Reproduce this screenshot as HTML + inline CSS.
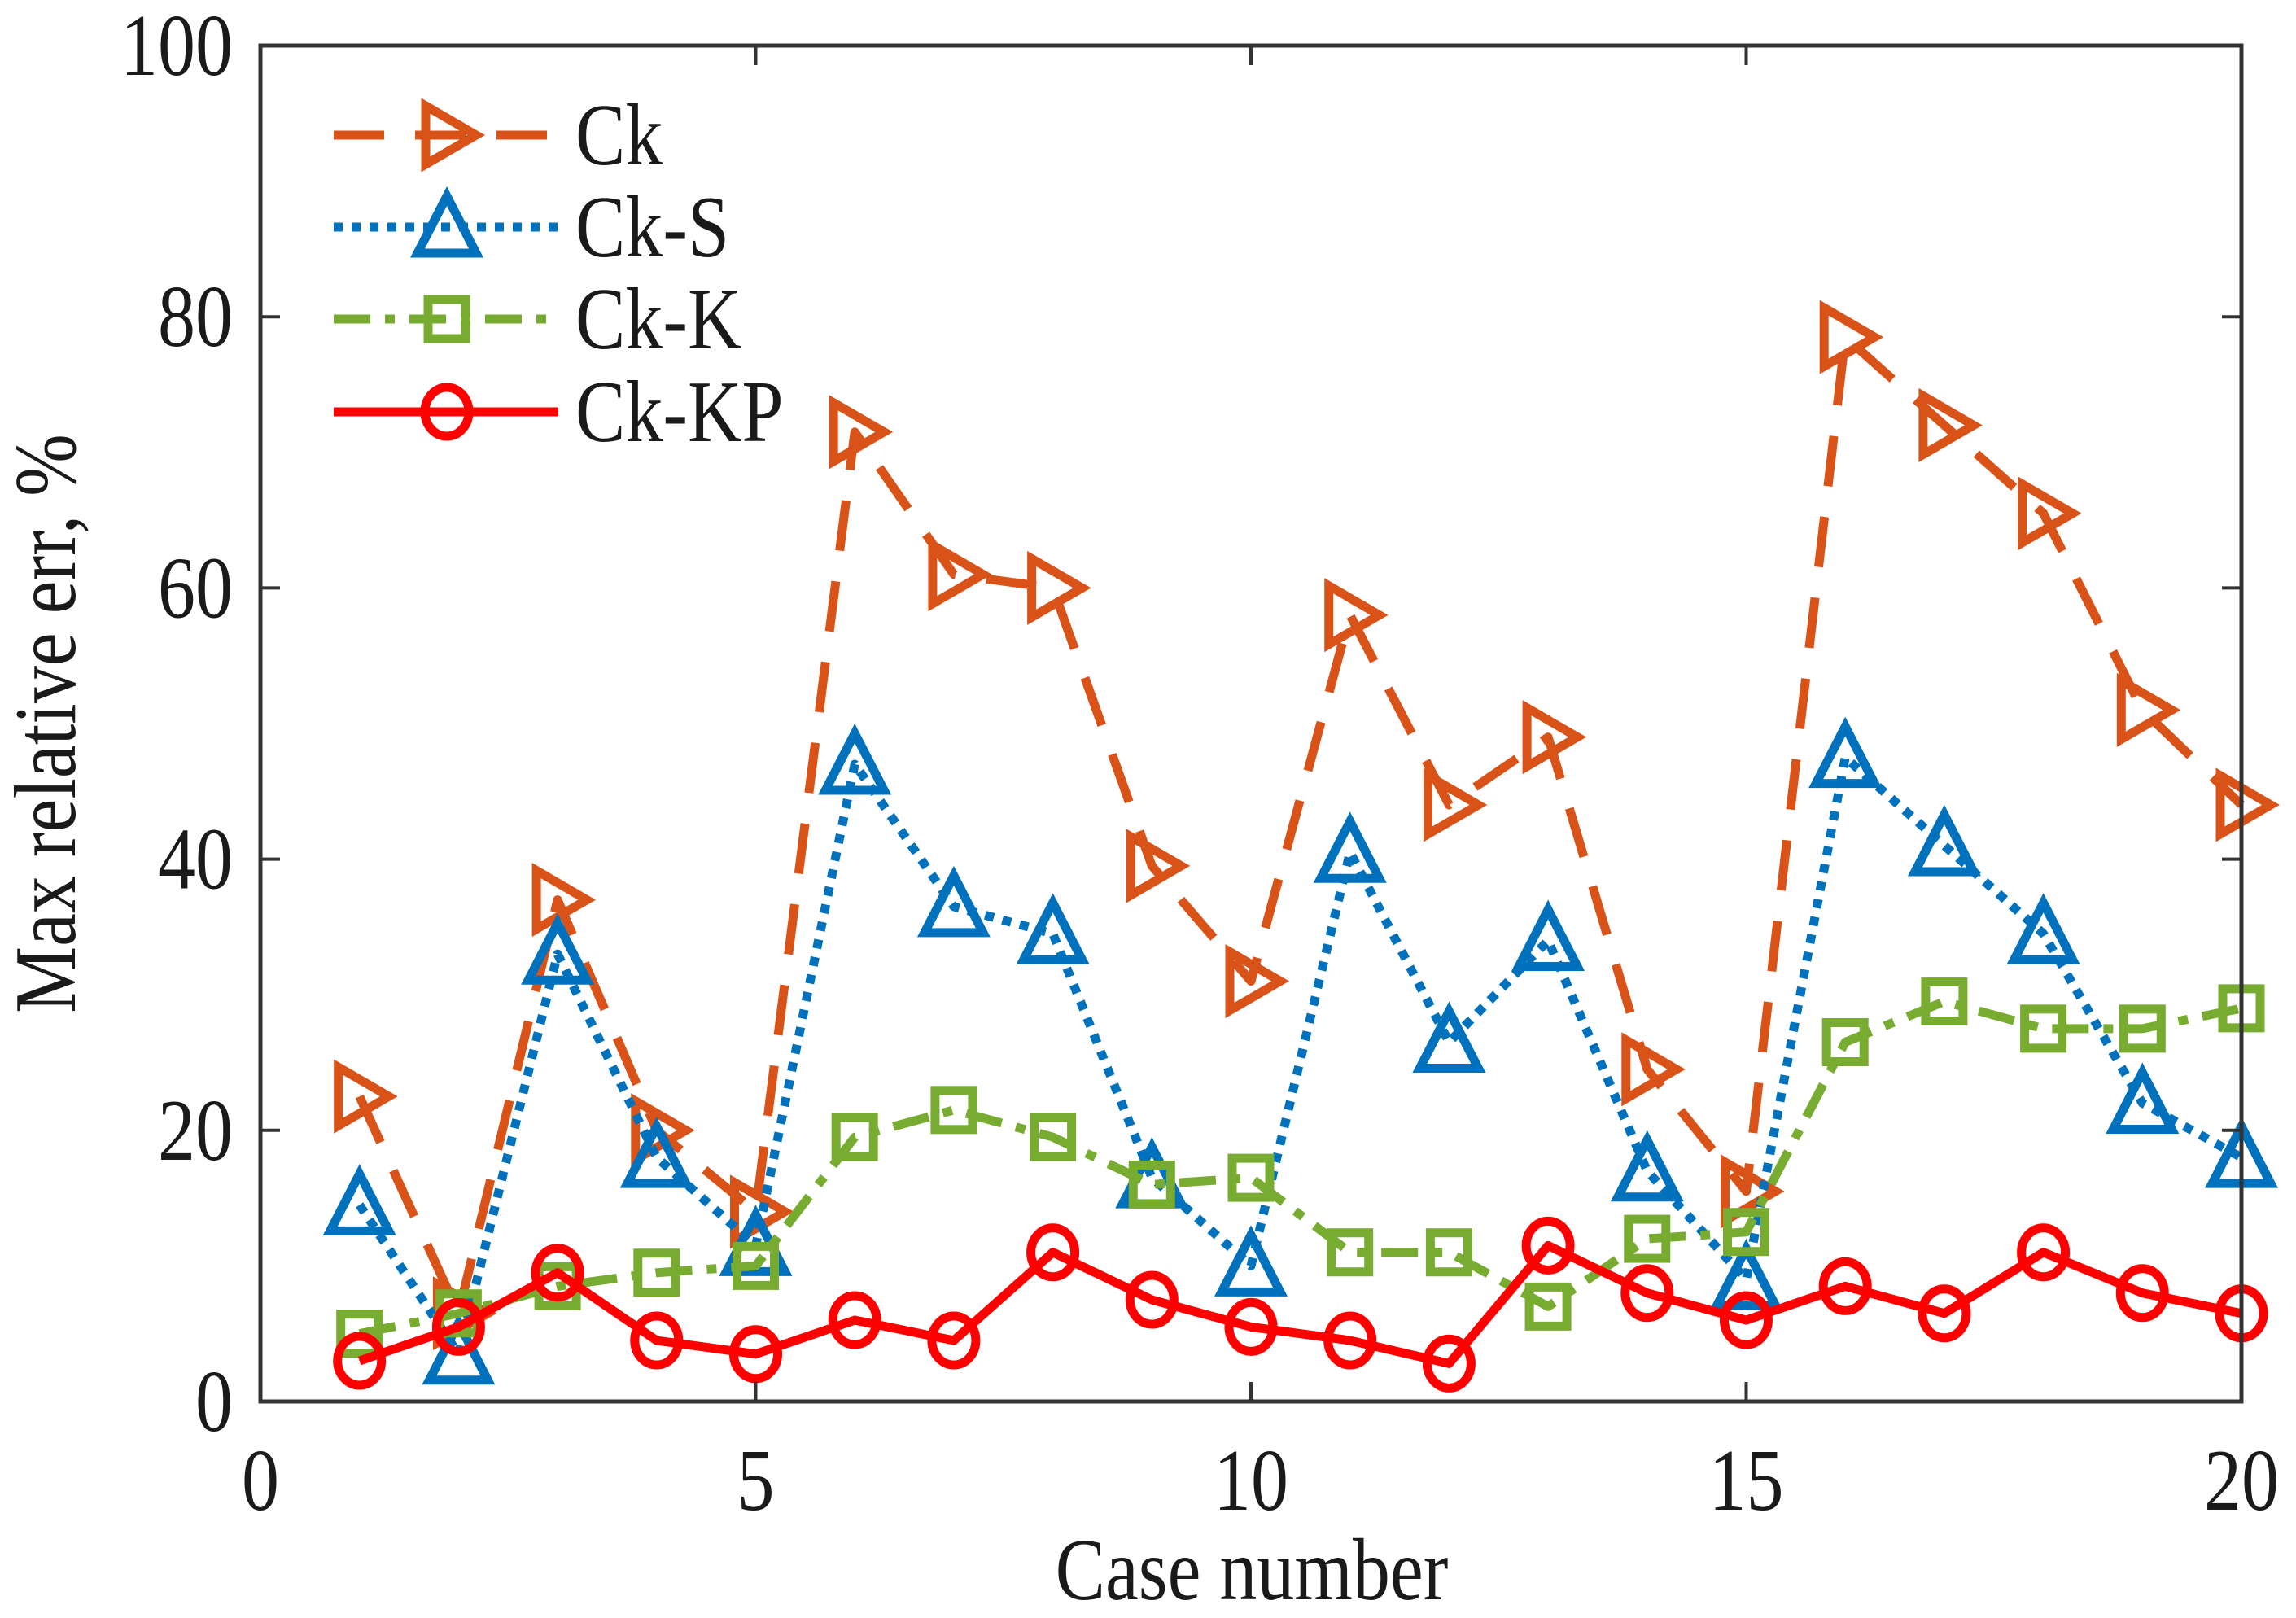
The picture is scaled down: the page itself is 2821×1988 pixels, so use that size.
<!DOCTYPE html>
<html><head><meta charset="utf-8"><style>
html,body{margin:0;padding:0;background:#fff;}
svg text{font-family:"Liberation Serif",serif;fill:#1a1a1a;}
</style></head><body>
<svg id="chart" width="2821" height="1983" viewBox="0 0 2821 1983" xmlns="http://www.w3.org/2000/svg">
<g id="marks"></g>
<g id="axes"></g>
<g id="legend"></g>
</svg>
<script>
const cases = [1,2,3,4,5,6,7,8,9,10,11,12,13,14,15,16,17,18,19,20];
const ckValues = [22.5,6.5,37,20,14,71.5,61,60,39.5,31,58,44,49,24.5,15.5,78.5,72,65.5,51,44];
const ckSValues = [14.5,3.5,33,18,11.5,47,36.5,34.5,16.5,10,40.5,26.5,34,17,9,47.5,41,34.5,22,18];
const ckKValues = [5,6.5,8.5,9.5,10,19.5,21.5,19.5,16,16.5,11,11,7,12,12.5,26.5,29.5,27.5,27.5,29];
const ckKPValues = [3,5.5,9.5,4.5,3.5,6,4.5,11,7.5,5.5,4.5,2.8,11.5,8,6,8.5,6.5,11,8,6.5];
const xTicks = [0,5,10,15,20];
const yTicks = [0,20,40,60,80,100];
const seriesNames = ["Ck","Ck-S","Ck-K","Ck-KP"];

const L=320,R=2754,T=56,B=1722;
const xs = v => L + (v-0)/(20-0)*(R-L);
const ys = v => B - (v-0)/(100-0)*(B-T);
const NS="http://www.w3.org/2000/svg";
const SY=1.17;
function mk(tag, attrs, parent){const e=document.createElementNS(NS,tag);for(const k in attrs)e.setAttribute(k,attrs[k]);parent.appendChild(e);return e;}
function txt(x,y,anchor,str,parent,rot){
  const tr = rot ? `translate(${x},${y}) rotate(-90) scale(1,${SY})` : `translate(${x},${y}) scale(1,${SY})`;
  const t=mk('text',{x:0,y:0,"font-size":92,"text-anchor":anchor,transform:tr},parent);
  t.textContent=str;return t;
}
const marks=document.getElementById('marks'), axes=document.getElementById('axes'), legend=document.getElementById('legend');

const styles=[
 {vals:ckValues,color:"#D95319",dash:"62,38",marker:"tri-right",slug:"ck"},
 {vals:ckSValues,color:"#0072BD",dash:"11,11",marker:"tri-up",slug:"ck-s"},
 {vals:ckKValues,color:"#77AC30",dash:"45,18,12,18",marker:"square",slug:"ck-k"},
 {vals:ckKPValues,color:"#FF0000",dash:"none",marker:"circle",slug:"ck-kp"}
];
const SW=11;
function marker(type,x,y,color,parent){
  let e;
  if(type==="circle") e=mk('ellipse',{cx:x,cy:y,rx:27,ry:30,fill:"none",stroke:color,"stroke-width":SW},parent);
  else if(type==="square") e=mk('rect',{x:x-23,y:y-24,width:46,height:48,fill:"none",stroke:color,"stroke-width":SW},parent);
  else if(type==="tri-up") e=mk('polygon',{points:`${x},${y-38} ${x-36},${y+32} ${x+36},${y+32}`,fill:"none",stroke:color,"stroke-width":SW},parent);
  else e=mk('polygon',{points:`${x+36},${y} ${x-26},${y-36} ${x-26},${y+36}`,fill:"none",stroke:color,"stroke-width":SW},parent);
  return e;
}
styles.forEach((s,si)=>{
  const g=mk('g',{},marks);
  
  
  const pts=cases.map((c,i)=>xs(c)+","+ys(s.vals[i])).join(" ");
  const pl=mk('polyline',{points:pts,fill:"none",stroke:s.color,"stroke-width":SW,"stroke-dasharray":s.dash,"stroke-linejoin":"round"},g);
  
  
  cases.forEach((c,i)=>{
    const m=marker(s.marker,xs(c),ys(s.vals[i]),s.color,g);
    
    
  });
});
const box=mk('rect',{x:L,y:T,width:R-L,height:B-T,fill:"none",stroke:"#333","stroke-width":5},axes);


xTicks.forEach(t=>{
  const x=xs(t);
  mk('line',{x1:x,y1:B,x2:x,y2:B-24,stroke:"#333","stroke-width":4},axes);
  mk('line',{x1:x,y1:T,x2:x,y2:T+24,stroke:"#333","stroke-width":4},axes);
  const tx=txt(x,1855,"middle",String(t),axes);
  
  
});
yTicks.forEach(t=>{
  const y=ys(t);
  mk('line',{x1:L,y1:y,x2:L+24,y2:y,stroke:"#333","stroke-width":4},axes);
  mk('line',{x1:R,y1:y,x2:R-24,y2:y,stroke:"#333","stroke-width":4},axes);
  const tx=txt(286,y+36,"end",String(t),axes);
  
  
});
const xl=txt(1538,1965,"middle","Case number",axes);


const yl=txt(92,889,"middle","Max relative err, %",axes,true);


const ly=[166,279,392,506];
styles.forEach((s,i)=>{
  const g=mk('g',{},legend);
  
  
  mk('line',{x1:410,y1:ly[i],x2:686,y2:ly[i],stroke:s.color,"stroke-width":SW,"stroke-dasharray":s.dash},g);
  marker(s.marker,549,ly[i],s.color,g);
  txt(707,ly[i]+36,"start",seriesNames[i],g);
});
</script>
</body></html>
